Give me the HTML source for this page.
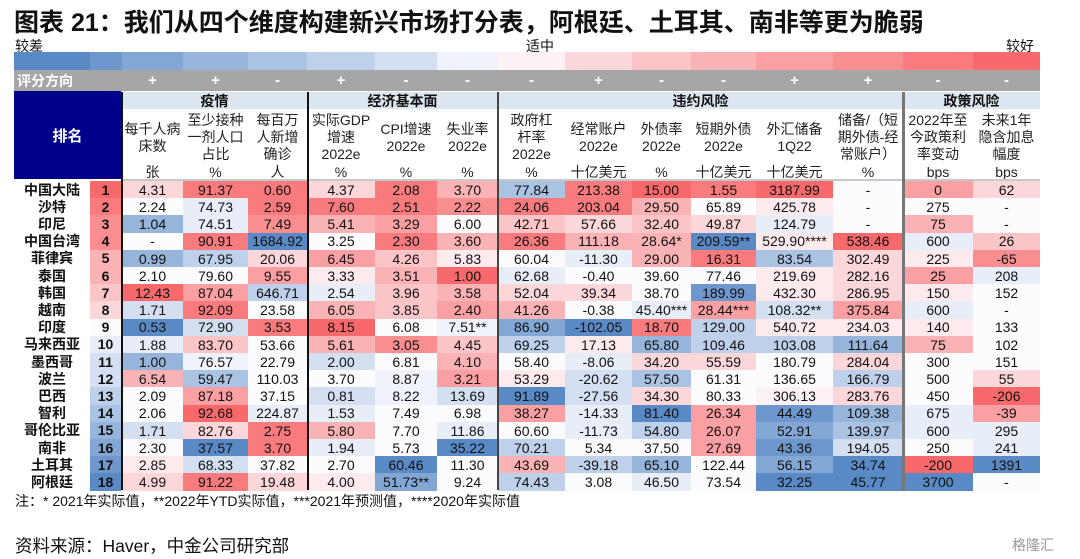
<!DOCTYPE html>
<html><head><meta charset="utf-8">
<style>
body{margin:0;width:1080px;height:559px;background:#fff;position:relative;overflow:hidden;font-family:"Liberation Sans","Noto Sans CJK SC",sans-serif;color:#111}
.a{position:absolute;box-sizing:border-box}
.c{display:flex;align-items:center;justify-content:center;text-align:center}
.cell{font-size:14px}
.hd{font-size:14px;line-height:17px;color:#222}
</style></head><body>
<div class="a" style="left:14px;top:3px;font-size:25px;font-weight:bold;">图表 21：我们从四个维度构建新兴市场打分表，阿根廷、土耳其、南非等更为脆弱</div>
<div class="a" style="left:15px;top:36px;font-size:14px">较差</div>
<div class="a" style="left:526px;top:36px;font-size:14px">适中</div>
<div class="a" style="left:1006px;top:36px;font-size:14px">较好</div>
<div id="root"></div>
<div class="a" style="left:15px;top:491px;font-size:14px">注：* 2021年实际值，**2022年YTD实际值，***2021年预测值，****2020年实际值</div>
<div class="a" style="left:15px;top:533px;font-size:17.5px">资料来源：Haver，中金公司研究部</div>
<div class="a" style="left:1012px;top:535px;font-size:14px;color:#999">格隆汇</div>
<script>
const countries=["中国大陆","沙特","印尼","中国台湾","菲律宾","泰国","韩国","越南","印度","马来西亚","墨西哥","波兰","巴西","智利","哥伦比亚","南非","土耳其","阿根廷"];
const rankLevels=[4,3.5,3,3,2,2,1.5,1,0,-0.5,-1,-1,-1.5,-2,-2.5,-3,-3.5,-4];
const directions=["+","+","-","+","-","-","-","+","-","-","+","+","-","-"];
const values=[
["4.31","91.37","0.60","4.37","2.08","3.70","77.84","213.38","15.00","1.55","3187.99","-","0","62"],
["2.24","74.73","2.59","7.60","2.51","2.22","24.06","203.04","29.50","65.89","425.78","-","275","-"],
["1.04","74.51","7.49","5.41","3.29","6.00","42.71","57.66","32.40","49.87","124.79","-","75","-"],
["-","90.91","1684.92","3.25","2.30","3.60","26.36","111.18","28.64*","209.59**","529.90****","538.46","600","26"],
["0.99","67.95","20.06","6.45","4.26","5.83","60.04","-11.30","29.00","16.31","83.54","302.49","225","-65"],
["2.10","79.60","9.55","3.33","3.51","1.00","62.68","-0.40","39.60","77.46","219.69","282.16","25","208"],
["12.43","87.04","646.71","2.54","3.96","3.58","52.04","39.34","38.70","189.99","432.30","286.95","150","152"],
["1.71","92.09","23.58","6.05","3.85","2.40","41.26","-0.38","45.40***","28.44***","108.32**","375.84","600","-"],
["0.53","72.90","3.53","8.15","6.08","7.51**","86.90","-102.05","18.70","129.00","540.72","234.03","140","133"],
["1.88","83.70","53.66","5.61","3.05","4.45","69.25","17.13","65.80","109.46","103.08","111.64","75","102"],
["1.00","76.57","22.79","2.00","6.81","4.10","58.40","-8.06","34.20","55.59","180.79","284.04","300","151"],
["6.54","59.47","110.03","3.70","8.87","3.21","53.29","-20.62","57.50","61.31","136.65","166.79","500","55"],
["2.09","87.18","37.15","0.81","8.22","13.69","91.89","-27.56","34.30","80.33","306.13","283.76","450","-206"],
["2.06","92.68","224.87","1.53","7.49","6.98","38.27","-14.33","81.40","26.34","44.49","109.38","675","-39"],
["1.71","82.76","2.75","5.80","7.70","11.86","60.60","-11.73","54.80","26.07","52.91","139.97","600","295"],
["2.30","37.57","3.70","1.94","5.73","35.22","70.21","5.34","37.50","27.69","43.36","194.05","250","241"],
["2.85","68.33","37.82","2.70","60.46","11.30","43.69","-39.18","65.10","122.44","56.15","34.74","-200","1391"],
["4.99","91.22","19.48","4.00","51.73**","9.24","74.43","3.08","46.50","73.54","32.25","45.77","3700","-"]];
const levels=[
[1,3.5,3.5,1,3.5,2,-2,3.5,4,3.5,4,0,2.5,1],
[0,-0.5,3.5,3.5,3.5,3,3.5,3.5,2,0,0.5,0,0,0],
[-2.5,-0.5,3,2,2.5,0,1.5,1,1.5,1,-0.5,0,2,0],
[0,3.5,-4,0,3.5,2,3.5,2,2,-4,0.5,4,-0.5,1.5],
[-2.5,-1.5,1,2.5,1.5,0.5,0,-0.5,2,3.5,-2,1,0.5,3],
[0,0,2.5,0.5,2,4,-0.5,0,0,0,0.5,1,2.5,-0.5],
[4,2.5,-1.5,-0.5,1.5,2,1,1,0,-3.5,0.5,1,0.5,0],
[-1,3.5,0,2,1.5,2.5,2,0,-0.5,2.5,-1,2.5,-0.5,0],
[-4,-1,3.5,4,0,-0.3,-3,-4,3.5,-1.5,0.5,0.5,0.5,0],
[-0.5,1.5,0,2,3,1.5,-1.5,0.5,-2.5,-1.5,-1.5,-2.5,2,0],
[-2.5,-0.3,0,-1,0,2,0,-0.5,1,1,0,1,0,0],
[2,-2,0,0,-0.3,2.5,0.5,-1,-2,0,0,-1.5,0,1],
[0,2.5,0,-1,-0.3,-1,-4,-1,1,0,0.3,1,0,4],
[0,4,-0.5,-0.5,0,0,2.5,-0.5,-4,2.5,-3.5,-2.5,-0.5,2.5],
[-1,1,3.5,2,0,-0.5,0,-0.5,-1.5,2.5,-3,-2,-0.5,-0.5],
[0,-4,3.5,-0.5,0,-4,-1.5,0,0,2.5,-3.5,-1,0,-0.5],
[0.5,-1,0,0,-4,0,2,-1.5,-2.5,0,-3,-4,4,-4],
[1,3.5,1,0.5,-3,0,-1.5,0,-0.5,0,-4,-4,-4,0]];
const scaleLevels=[-4,-3.5,-3,-2.5,-2,-1.5,-1,-0.3,0.3,1,1.5,2,2.5,3,3.5,4];
const colEdges=[122,183,248,307,375,437,498,565,632,691,756,833,903,973,1040];
const root=document.getElementById('root');
function col(l){
  const blue=[90,138,198],red=[248,105,107],w=[252,252,255];
  const t=Math.min(1,Math.abs(l)/4),e=l<0?blue:red;
  return `rgb(${w.map((v,i)=>Math.round(v+(e[i]-v)*t)).join(',')})`;
}
function box(x,y,w,h,css,txt,name){
  const d=document.createElement('div');
  d.className='a c';
  d.style.cssText=`left:${x}px;top:${y}px;width:${w}px;height:${h}px;${css}`;
  d.innerHTML=txt||'';
  
  
  root.appendChild(d);return d;
}
const scaleEdges=[14,90].concat(colEdges);
scaleLevels.forEach((l,i)=>{box(scaleEdges[i],52,scaleEdges[i+1]-scaleEdges[i],18,'background:'+col(l),'','legend-swatch');});
box(14,70,1026,21,'background:#a6a6a6;justify-content:flex-start;padding-left:3px;color:#fff;font-weight:bold;font-size:14px','评分方向','direction-row');
directions.forEach((s,i)=>{box(colEdges[i],70,colEdges[i+1]-colEdges[i],21,'color:#fff;font-weight:bold;font-size:15px',s,'direction-sign');});
box(14,91,107,88,'background:#00008b;color:#fff;font-weight:bold;font-size:15px','排名','rank-header');
box(122,92,918,17,'background:#dce6f0','','group-header-band');
const groups=[["疫情",122,307],["经济基本面",307,498],["违约风险",498,903],["政策风险",903,1040]];
groups.forEach(g=>{box(g[1],92,g[2]-g[1],17,'font-weight:bold;font-size:14px',g[0],'group-header');});
const heads=["每千人病<br>床数","至少接种<br>一剂人口<br>占比","每百万<br>人新增<br>确诊","实际GDP<br>增速<br>2022e","CPI增速<br>2022e","失业率<br>2022e","政府杠<br>杆率<br>2022e","经常账户<br>2022e","外债率<br>2022e","短期外债<br>2022e","外汇储备<br>1Q22","储备/（短<br>期外债-经<br>常账户）","2022年至<br>今政策利<br>率变动","未来1年<br>隐含加息<br>幅度"];
const units=["张","%","人","%","%","%","%","十亿美元","%","十亿美元","十亿美元","%","bps","bps"];
heads.forEach((h,i)=>{const w=colEdges[i+1]-colEdges[i];
  box(colEdges[i],110,w,55,'',`<span class="hd">${h}</span>`,'column-header');
  box(colEdges[i],164,w,15,'font-size:14px;color:#222',units[i],'column-unit');});
box(122,179,918,2,'background:#c8c8c8','','header-rule');
const rowTop=181,rowH=17.2;
countries.forEach((c,r)=>{
  const y=rowTop+r*rowH;
  box(14,y,76,rowH,'font-weight:bold;font-size:14px',c,'country-label');
  box(90,y,31,rowH,'font-weight:bold;font-size:14px;background:'+col(rankLevels[r]),String(r+1),'rank-cell');
  values[r].forEach((v,i)=>{
    const d=box(colEdges[i],y,colEdges[i+1]-colEdges[i],rowH+0.5,'background:'+col(levels[r][i]),v,'heat-cell');
    d.classList.add('cell');
  });
});
[[121,2,'#111'],[307,1.5,'#111'],[497,2,'#444'],[902,2.5,'#777']].forEach(s=>{box(s[0],92,s[1],398,'background:'+s[2],'','column-separator');});
</script>
</body></html>
